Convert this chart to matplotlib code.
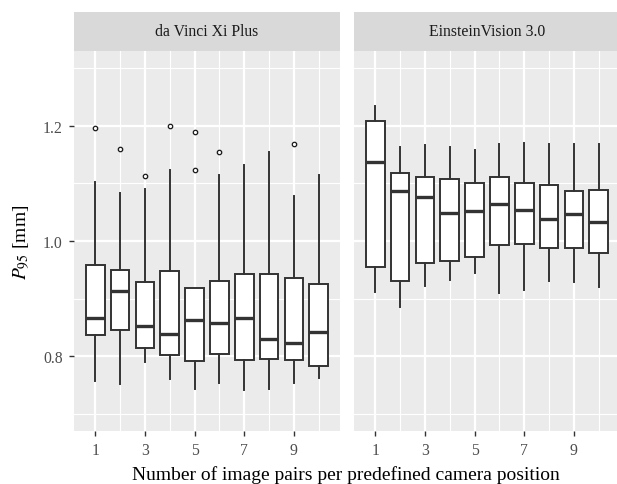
import matplotlib
matplotlib.use("Agg")
import matplotlib.pyplot as plt
import numpy as np

plt.rcParams['font.family'] = ['Liberation Serif', 'DejaVu Serif']
plt.rcParams['mathtext.fontset'] = 'stix'

# camera positions (number of image pairs)
positions = [1, 2, 3, 4, 5, 6, 7, 8, 9, 10]
systems = ["da Vinci Xi Plus", "EinsteinVision 3.0"]

# da Vinci Xi Plus: box statistics
dv_low = [0.757, 0.751, 0.789, 0.761, 0.743, 0.754, 0.741, 0.743, 0.753, 0.762]
dv_q1 = [0.837, 0.845, 0.815, 0.802, 0.791, 0.803, 0.794, 0.795, 0.793, 0.783]
dv_med = [0.866, 0.914, 0.852, 0.839, 0.863, 0.857, 0.866, 0.829, 0.822, 0.842]
dv_q3 = [0.958, 0.950, 0.928, 0.948, 0.919, 0.930, 0.942, 0.942, 0.936, 0.926]
dv_high = [1.103, 1.083, 1.090, 1.123, 0.919, 1.115, 1.132, 1.155, 1.078, 1.114]
dv_out = [[1.197], [1.159], [1.113], [1.199], [1.189, 1.124], [1.155], [], [], [1.168], []]

# EinsteinVision 3.0
ev_low = [0.911, 0.885, 0.921, 0.933, 0.945, 0.909, 0.915, 0.931, 0.929, 0.920]
ev_q1 = [0.954, 0.931, 0.961, 0.965, 0.972, 0.993, 0.995, 0.988, 0.988, 0.980]
ev_med = [1.137, 1.086, 1.076, 1.049, 1.052, 1.064, 1.053, 1.038, 1.047, 1.033]
ev_q3 = [1.209, 1.118, 1.112, 1.108, 1.101, 1.112, 1.101, 1.097, 1.086, 1.089]
ev_high = [1.234, 1.163, 1.167, 1.163, 1.158, 1.169, 1.170, 1.168, 1.168, 1.168]
ev_out = [[], [], [], [], [], [], [], [], [], []]

data = [
    (dv_low, dv_q1, dv_med, dv_q3, dv_high, dv_out),
    (ev_low, ev_q1, ev_med, ev_q3, ev_high, ev_out),
]

W, H = 617, 485
fig = plt.figure(figsize=(W / 100, H / 100), dpi=100)

panel_left = [74, 354]
panel_w = 266
panel_top, panel_bot = 52, 432
strip_top = 13

line_col = '#333333'
for i, (name, (lo, q1, med, q3, hi, out)) in enumerate(zip(systems, data)):
    x0 = panel_left[i]
    ax = fig.add_axes([x0 / W, (H - panel_bot) / H, panel_w / W, (panel_bot - panel_top) / H])
    ax.set_facecolor('#EBEBEB')
    for s in ax.spines.values():
        s.set_visible(False)

    stats = []
    for k in range(len(positions)):
        stats.append(dict(whislo=lo[k], q1=q1[k], med=med[k], q3=q3[k],
                          whishi=hi[k], fliers=out[k]))
    ax.bxp(stats, positions=positions, widths=0.75, showcaps=False,
           patch_artist=True, manage_ticks=False,
           boxprops=dict(facecolor='white', edgecolor=line_col, linewidth=1.4),
           whiskerprops=dict(color=line_col, linewidth=1.4),
           medianprops=dict(color=line_col, linewidth=2.4, solid_capstyle='butt'),
           flierprops=dict(marker='o', markersize=3.2, markerfacecolor='none',
                           markeredgecolor='#1a1a1a', markeredgewidth=0.9))

    ax.set_xlim(0.1375, 10.8625)
    ax.set_ylim(0.67, 1.33)
    ax.set_xticks([1, 3, 5, 7, 9])
    ax.set_xticks([2, 4, 6, 8, 10], minor=True)
    ax.set_yticks([0.8, 1.0, 1.2])
    ax.set_yticks([0.7, 0.9, 1.1, 1.3], minor=True)
    ax.set_axisbelow(True)
    ax.grid(which='major', color='white', linewidth=1.6)
    ax.grid(which='minor', color='white', linewidth=0.8)
    ax.tick_params(which='minor', length=0)
    ax.tick_params(which='major', length=3.6, width=1.0, color=line_col,
                   labelsize=11.3, labelcolor='#4D4D4D', pad=4.5)
    if i == 0:
        ax.set_yticklabels(['0.8', '1.0', '1.2'])
    else:
        ax.tick_params(axis='y', which='both', left=False, labelleft=False)

    # facet strip
    sax = fig.add_axes([x0 / W, (H - panel_top) / H, panel_w / W, (panel_top - strip_top) / H])
    sax.set_facecolor('#D9D9D9')
    sax.set_xticks([])
    sax.set_yticks([])
    for s in sax.spines.values():
        s.set_visible(False)
    sax.text(0.5, 0.5, name, ha='center', va='center', fontsize=11.3,
             color='#1A1A1A', transform=sax.transAxes)

fig.text(22 / W, 1 - 242 / H, r'$P_{95}$ [mm]', rotation=90, ha='center', va='center',
         fontsize=14, color='black')
fig.text(346 / W, 1 - 475 / H, 'Number of image pairs per predefined camera position',
         ha='center', va='center', fontsize=14, color='black')

fig.savefig('out.png', dpi=100)
